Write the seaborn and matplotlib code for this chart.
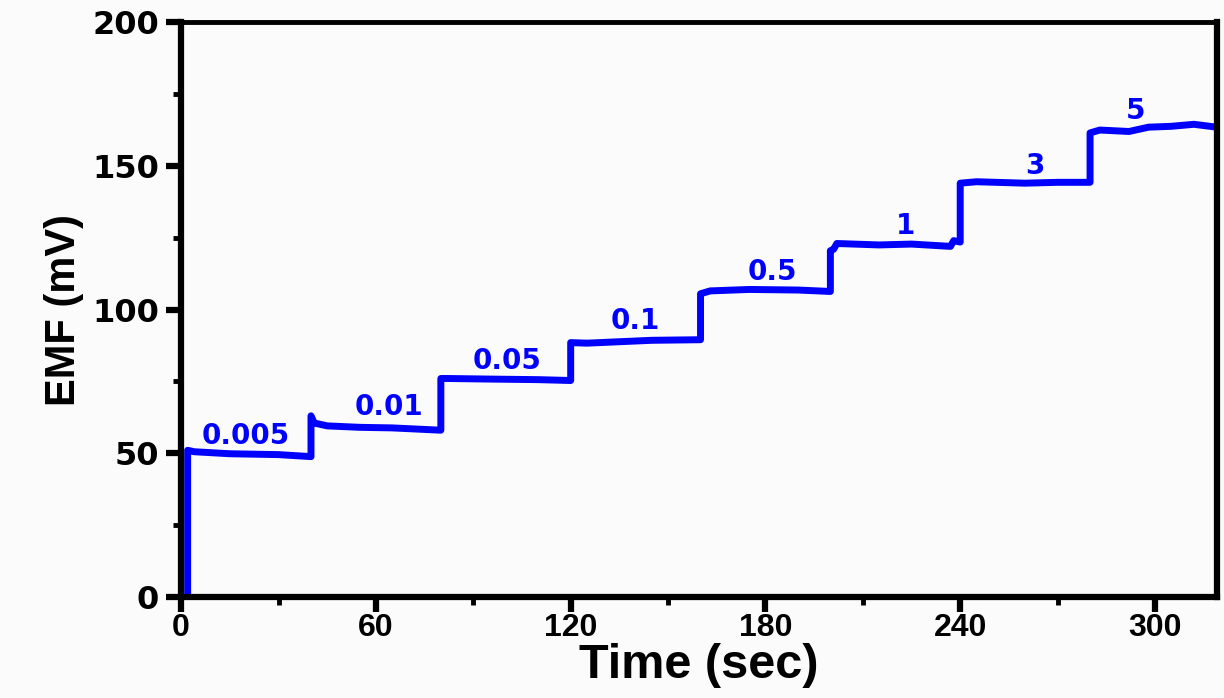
import pandas as pd
import matplotlib
matplotlib.use("Agg")
from matplotlib import pyplot as plt
from matplotlib.ticker import MultipleLocator
import seaborn as sns

# potential response
time = [2, 2, 4, 15, 30, 40,
        40, 41, 45, 55, 65, 80,
        80, 82, 95, 110, 120,
        120, 125, 135, 145, 160,
        160, 163, 175, 190, 200,
        200, 201, 202, 215, 225, 237, 238, 240,
        240, 245, 260, 270, 280,
        280, 283, 292, 298, 305, 312, 319]
emf = [0, 51, 50.5, 49.8, 49.5, 48.8,
       63, 60.5, 59.5, 59.0, 58.8, 58.0,
       76, 76, 75.8, 75.6, 75.3,
       88.5, 88.3, 88.8, 89.3, 89.5,
       105.5, 106.5, 107, 106.8, 106.3,
       120.5, 121, 123, 122.5, 122.8, 122, 124, 123.5,
       144, 144.5, 144, 144.3, 144.3,
       161.5, 162.5, 162, 163.5, 163.8, 164.5, 163.5]

# concentration labels over each step
conc = ["0.005", "0.01", "0.05", "0.1", "0.5", "1", "3", "5"]
conc_x = [20, 64, 100.5, 140, 182, 223, 263, 294]
conc_y = [56, 66, 82, 96, 113, 129, 150, 169]

df = pd.DataFrame({"time": time, "emf": emf})

sns.set_theme(style="ticks", rc={"text.color": "black", "axes.labelcolor": "black",
                                 "xtick.color": "black", "ytick.color": "black"})
fig = plt.figure(figsize=(12.24, 6.98), dpi=100, facecolor="#fbfbfc")
ax = fig.add_axes([0.148, 0.145, 0.846, 0.823])
ax.set_facecolor("#fbfbfc")

sns.lineplot(data=df, x="time", y="emf", sort=False, estimator=None,
             color="#0000ff", linewidth=5, ax=ax)

for t, x, y in zip(conc, conc_x, conc_y):
    ax.text(x, y, t, color="#0000ff", fontsize=20, fontweight="bold",
            ha="center", va="center", family="DejaVu Sans")

ax.set_xlim(0, 319)
ax.set_ylim(0, 200)
ax.xaxis.set_major_locator(MultipleLocator(60))
ax.xaxis.set_minor_locator(MultipleLocator(30))
ax.yaxis.set_major_locator(MultipleLocator(50))
ax.yaxis.set_minor_locator(MultipleLocator(25))

for side in ["left", "right", "bottom"]:
    ax.spines[side].set_linewidth(4.5)
    ax.spines[side].set_color("black")
ax.spines["top"].set_linewidth(3.5)
ax.spines["top"].set_color("black")

ax.tick_params(which="major", direction="out", length=11, width=4.5, color="black")
ax.tick_params(which="minor", direction="out", length=6, width=3.5, color="black")
ax.tick_params(axis="y", labelsize=23, pad=5)
ax.tick_params(axis="x", labelsize=23, pad=1)
for lab in ax.get_yticklabels():
    lab.set_fontweight("heavy")
    lab.set_family("DejaVu Sans")
for lab in ax.get_xticklabels():
    lab.set_fontweight("bold")
    lab.set_family("Liberation Sans")

ax.set_xlabel("Time (sec)", fontsize=35, fontweight="bold", family="Liberation Sans", labelpad=0)
ax.set_ylabel("EMF (mV)", fontsize=30, fontweight="bold", family="Liberation Sans", labelpad=6)

fig.savefig("out.png", dpi=100, facecolor=fig.get_facecolor())
